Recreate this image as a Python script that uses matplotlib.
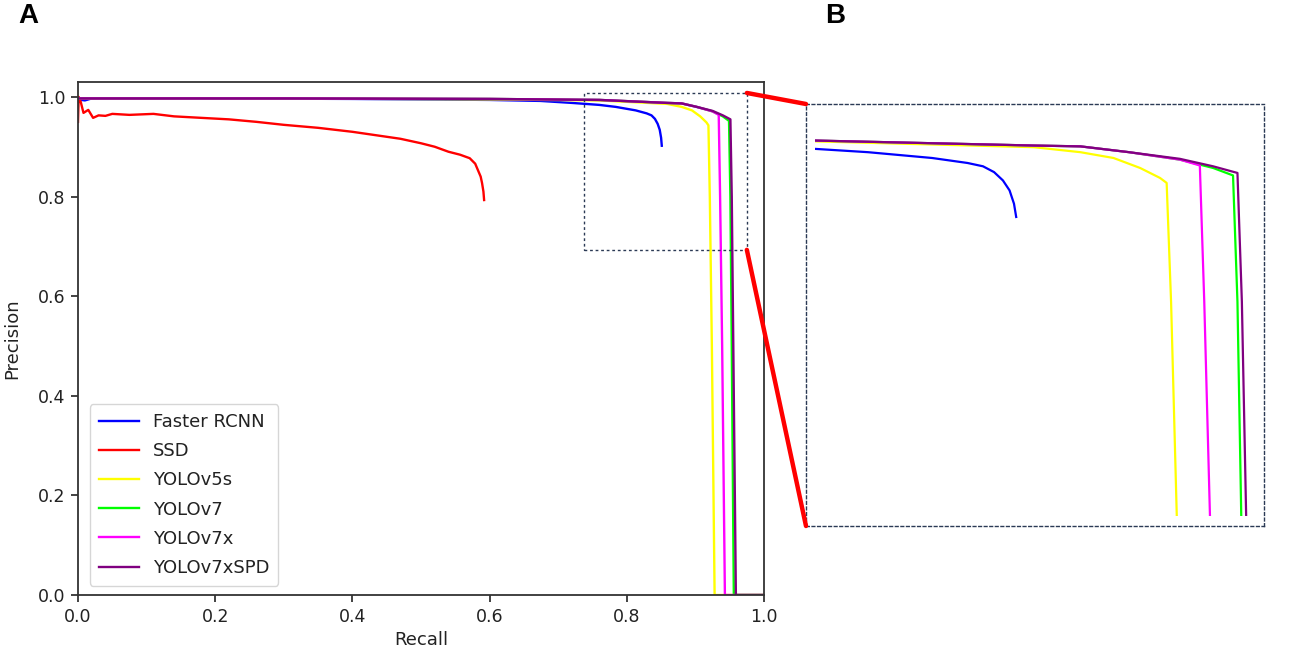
import matplotlib
matplotlib.use('Agg')
import matplotlib.pyplot as plt
from matplotlib.patches import Rectangle, ConnectionPatch

# ---------------- data ----------------
labels = ['Faster RCNN', 'SSD', 'YOLOv5s', 'YOLOv7', 'YOLOv7x', 'YOLOv7xSPD']
colors = ['#0000ff', '#ff0000', '#ffff00', '#00ff00', '#ff00ff', '#800080']

frcnn_r = [0, 0.005, 0.01, 0.02, 0.2, 0.4, 0.6, 0.674, 0.72, 0.76, 0.784, 0.813, 0.829, 0.836, 0.841, 0.845, 0.848, 0.850, 0.851]
frcnn_p = [0.998, 0.994, 0.993, 0.997, 0.997, 0.996, 0.994, 0.992, 0.988, 0.984, 0.980, 0.973, 0.967, 0.963, 0.956, 0.946, 0.934, 0.918, 0.902]

ssd_r = [0, 0.001, 0.004, 0.008, 0.015, 0.022, 0.03, 0.04, 0.05, 0.075, 0.11, 0.14, 0.18, 0.22, 0.26,
         0.30, 0.35, 0.40, 0.45, 0.47, 0.50, 0.52, 0.54, 0.557, 0.571, 0.579, 0.583, 0.587, 0.589, 0.591, 0.592]
ssd_p = [0.95, 1.0, 0.99, 0.968, 0.974, 0.958, 0.963, 0.962, 0.966, 0.964, 0.966, 0.961, 0.958, 0.955, 0.950,
         0.944, 0.938, 0.930, 0.920, 0.916, 0.907, 0.900, 0.890, 0.884, 0.877, 0.866, 0.853, 0.840, 0.827, 0.810, 0.793]

v5s_r = [0, 0.3, 0.6, 0.76, 0.859, 0.880, 0.895, 0.907, 0.916, 0.919, 0.921, 0.924, 0.928, 1.0]
v5s_p = [0.997, 0.997, 0.995, 0.993, 0.986, 0.980, 0.973, 0.961, 0.949, 0.943, 0.80, 0.50, 0.0, 0.0]

v7_r = [0, 0.3, 0.6, 0.76, 0.859, 0.880, 0.902, 0.925, 0.940, 0.949, 0.951, 0.953, 0.956, 1.0]
v7_p = [0.997, 0.997, 0.996, 0.994, 0.988, 0.987, 0.980, 0.971, 0.961, 0.952, 0.80, 0.50, 0.0, 0.0]

v7x_r = [0, 0.3, 0.6, 0.76, 0.859, 0.880, 0.902, 0.925, 0.934, 0.936, 0.939, 0.943, 1.0]
v7x_p = [0.997, 0.997, 0.996, 0.994, 0.988, 0.987, 0.980, 0.971, 0.964, 0.80, 0.50, 0.0, 0.0]

spd_r = [0, 0.3, 0.6, 0.76, 0.859, 0.880, 0.902, 0.925, 0.940, 0.951, 0.953, 0.956, 0.959, 1.0]
spd_p = [0.997, 0.997, 0.996, 0.994, 0.988, 0.987, 0.980, 0.972, 0.963, 0.955, 0.80, 0.40, 0.0, 0.0]

curves = [(frcnn_r, frcnn_p), (ssd_r, ssd_p), (v5s_r, v5s_p),
          (v7_r, v7_p), (v7x_r, v7x_p), (spd_r, spd_p)]

ticks = [0.0, 0.2, 0.4, 0.6, 0.8, 1.0]

# ---------------- figure ----------------
W, H = 1299, 655
fig = plt.figure(figsize=(W / 100, H / 100), dpi=100)
txt = '#222222'
spine_c = '#333333'
dash_c = '#2b3a55'

axA = fig.add_axes([78 / W, 60 / H, 686 / W, 513 / H])
for (r, p), c, lab in zip(curves, colors, labels):
    axA.plot(r, p, color=c, lw=1.7, label=lab)
axA.set_xlim(0, 1)
axA.set_ylim(0, 1.03)
axA.set_xticks(ticks)
axA.set_yticks(ticks)
axA.set_xticklabels([f'{t:.1f}' for t in ticks])
axA.set_yticklabels([f'{t:.1f}' for t in ticks])
axA.tick_params(labelsize=12.5, colors=txt, length=5, width=1.2, pad=4)
for s in axA.spines.values():
    s.set_color(spine_c)
    s.set_linewidth(1.3)
axA.set_xlabel('Recall', fontsize=13, color=txt, labelpad=4)
axA.set_ylabel('Precision', fontsize=13, color=txt, labelpad=12)
leg = axA.legend(loc='lower left', fontsize=13, labelspacing=0.62, handlelength=2.2,
                 borderpad=0.5, bbox_to_anchor=(0.004, 0.0))
for t in leg.get_texts():
    t.set_color(txt)

# zoom rectangle in A
zx0, zx1, zy0, zy1 = 0.738, 0.975, 0.693, 1.008
axA.add_patch(Rectangle((zx0, zy0), zx1 - zx0, zy1 - zy0, fill=False,
                        ls=(0, (2, 2)), ec=dash_c, lw=1.0, zorder=5))

# ---------------- panel B ----------------
axB = fig.add_axes([806 / W, 129 / H, 458 / W, 422 / H])
axB.set_xlim(0.756, 0.963)
axB.set_ylim(0.530, 1.038)
clip = Rectangle((0.760, 0.542), 0.5, 0.6, transform=axB.transData)
for (r, p), c in zip(curves, colors):
    ln, = axB.plot(r, p, color=c, lw=1.6)
    ln.set_clip_path(clip)
axB.set_xticks([])
axB.set_yticks([])
for s in axB.spines.values():
    s.set_linestyle((0, (2, 2)))
    s.set_color(dash_c)
    s.set_linewidth(1.0)

# connector lines
for ya, yb in [(zy1, 1.0), (zy0, 0.0)]:
    con = ConnectionPatch(xyA=(zx1, ya), coordsA=axA.transData,
                          xyB=(0.0, yb), coordsB=axB.transAxes,
                          color='#ff0000', lw=3.2)
    fig.add_artist(con)

fig.text(28 / W, 1 - 16 / H, 'A', fontsize=20, fontweight='bold', ha='center', va='center',
         family=['Liberation Sans', 'DejaVu Sans'])
fig.text(835 / W, 1 - 16 / H, 'B', fontsize=20, fontweight='bold', ha='center', va='center',
         family=['Liberation Sans', 'DejaVu Sans'])

fig.savefig('out.png', dpi=100)
